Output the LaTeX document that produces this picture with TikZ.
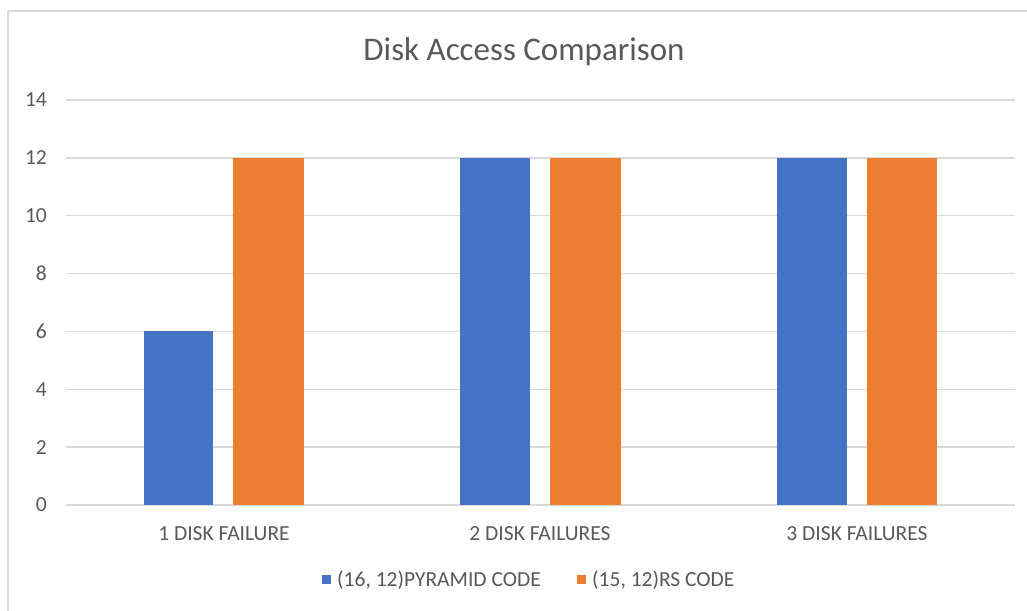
\documentclass[tikz,border=0pt]{standalone}
\usepackage{fontspec}
\setmainfont{Carlito}
\definecolor{barblue}{HTML}{4472C4}
\definecolor{barorange}{HTML}{ED7D31}
\definecolor{gridgrey}{HTML}{D9D9D9}
\definecolor{txtgrey}{HTML}{595959}
\begin{document}
\begin{tikzpicture}[x=1pt,y=-1pt,
  gridline/.style={draw=gridgrey,line width=1.5pt},
  axlabel/.style={text=txtgrey,font=\fontsize{21.5}{25}\selectfont,inner sep=0pt},
  bluebar/.style={fill=barblue,draw=none},
  orangebar/.style={fill=barorange,draw=none}]
\useasboundingbox (0,0) rectangle (1027,610);
\fill[white] (0,0) rectangle (1027,610);
% chart border
\draw[draw=gridgrey,line width=2pt] (8,612) -- (8,11) -- (1029,11);
% title
\node[text=txtgrey,font=\fontsize{33}{38}\selectfont,inner sep=0pt] (title) at (524,52) {Disk Access Comparison};
% gridlines and y labels
\foreach \v in {0,2,...,14}{
  \draw[gridline] (66,{505-\v*28.93}) -- (1015,{505-\v*28.93});
  \node[axlabel,anchor=east] (y\v) at (47,{505-\v*28.93}) {\v};
}
% bars
\fill[bluebar] (144,505) rectangle (213,{505-6*28.93});
\fill[orangebar] (233,505) rectangle (304,{505-12*28.93});
\fill[bluebar] (460,505) rectangle (530,{505-12*28.93});
\fill[orangebar] (550,505) rectangle (621,{505-12*28.93});
\fill[bluebar] (777,505) rectangle (847,{505-12*28.93});
\fill[orangebar] (867,505) rectangle (937,{505-12*28.93});
% category labels
\node[axlabel] (c1) at (224,534) {1 DISK FAILURE};
\node[axlabel] (c2) at (540,534) {2 DISK FAILURES};
\node[axlabel] (c3) at (857,534) {3 DISK FAILURES};
% legend
\fill[barblue] (322,575) rectangle (331,584);
\node[axlabel,anchor=west] (l1) at (337,580) {(16, 12)PYRAMID CODE};
\fill[barorange] (577,575) rectangle (586,584);
\node[axlabel,anchor=west] (l2) at (592,580) {(15, 12)RS CODE};
\end{tikzpicture}
\end{document}
